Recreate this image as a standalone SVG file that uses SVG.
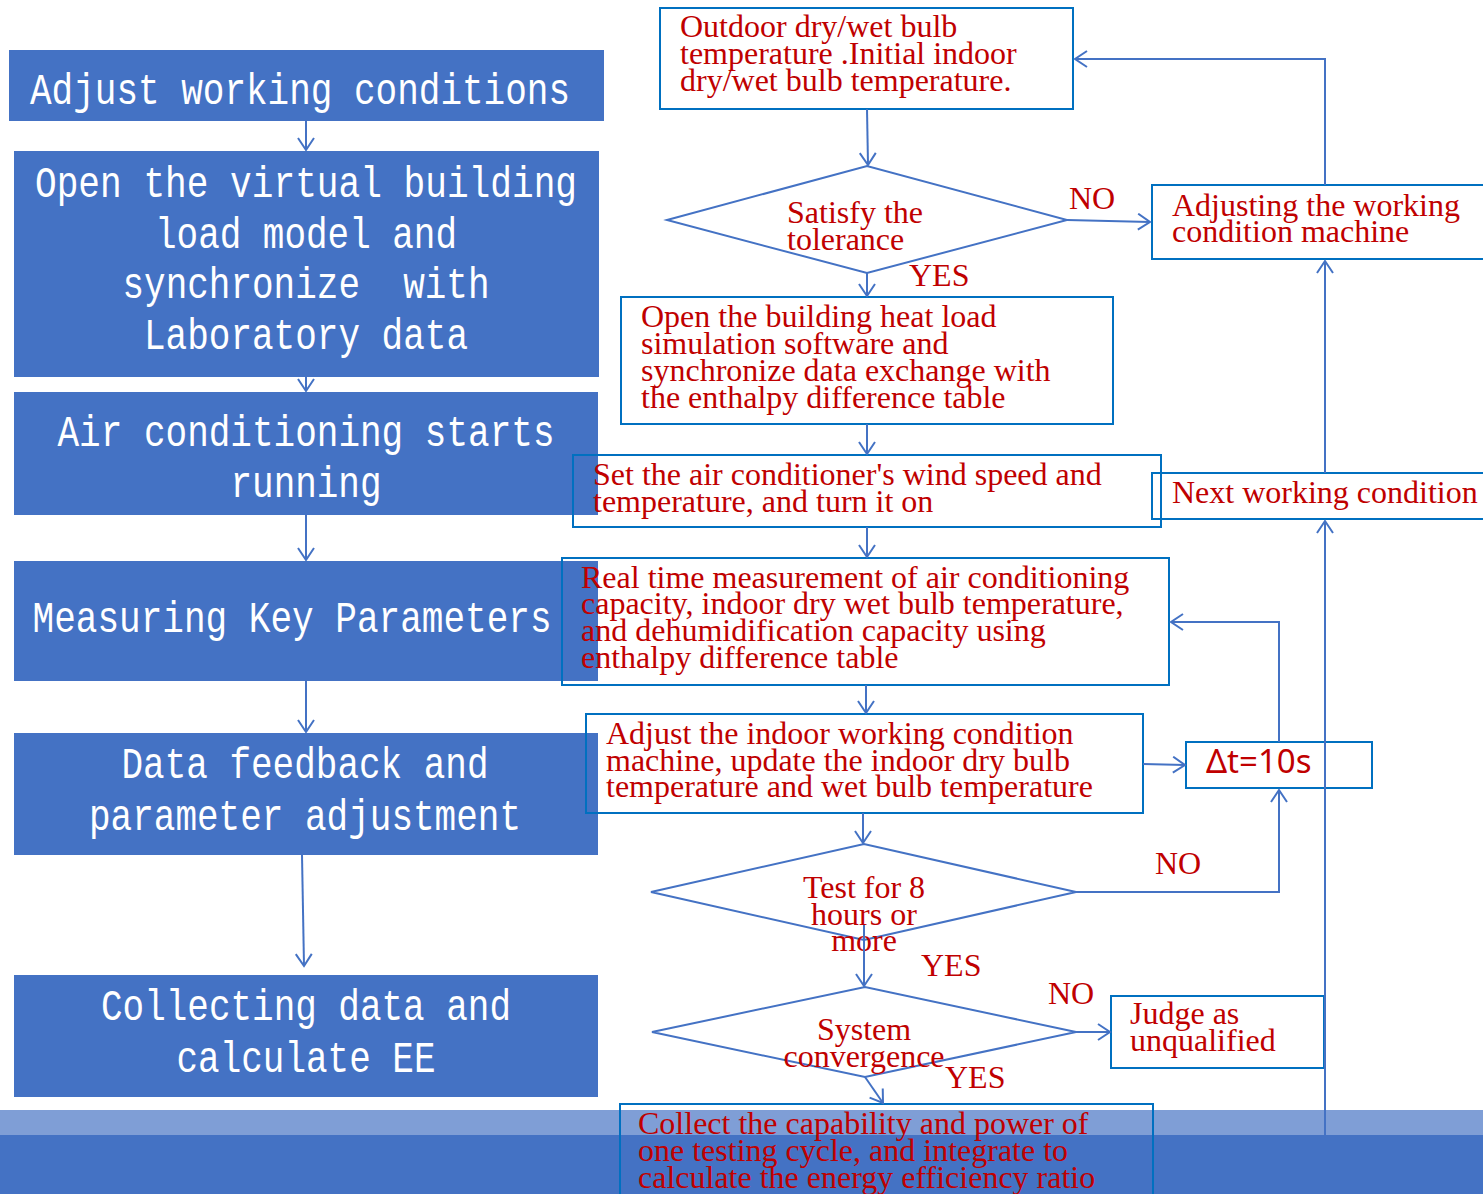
<svg xmlns="http://www.w3.org/2000/svg" width="1483" height="1194" viewBox="0 0 1483 1194">
<style>
.lb{fill:#4472C4}
.lt{font-family:"Liberation Mono",monospace;font-size:44px;fill:#fff;text-anchor:middle}
.rb{fill:none;stroke:#0070C0;stroke-width:2}
.rt{font-family:"Liberation Serif",serif;font-size:32px;fill:#C00000}
.rc{text-anchor:middle}
.dm{fill:none;stroke:#4472C4;stroke-width:2}
.cn{fill:none;stroke:#4472C4;stroke-width:2;marker-end:url(#ah)}
</style>
<defs>
<marker id="ah" markerUnits="userSpaceOnUse" markerWidth="20" markerHeight="20" refX="14" refY="9" orient="auto">
<path d="M2,1 L14,9 L2,17" fill="none" stroke="#4472C4" stroke-width="2"/>
</marker>
</defs>
<rect width="1483" height="1194" fill="#fff"/>
<g id="band">
<rect x="0" y="1110" width="1483" height="25" fill="#7F9ED6"/>
<rect x="0" y="1135" width="1483" height="59" fill="#4472C4"/>
</g>

<g id="n-adjust">
<rect class="lb" x="9" y="50" width="595" height="71"/>
<text class="lt" x="300" y="104" textLength="540" lengthAdjust="spacingAndGlyphs">Adjust working conditions</text>
</g>
<g id="n-open-virtual">
<rect class="lb" x="14" y="151" width="585" height="226"/>
<text class="lt" x="306" y="197" textLength="542" lengthAdjust="spacingAndGlyphs">Open the virtual building</text>
<text class="lt" x="306" y="248" textLength="302" lengthAdjust="spacingAndGlyphs">load model and</text>
<text class="lt" x="306" y="298" textLength="367" lengthAdjust="spacingAndGlyphs">synchronize&#160; with</text>
<text class="lt" x="306" y="349" textLength="324" lengthAdjust="spacingAndGlyphs">Laboratory data</text>
</g>
<g id="n-ac-start">
<rect class="lb" x="14" y="392" width="584" height="123"/>
<text class="lt" x="306" y="446" textLength="497" lengthAdjust="spacingAndGlyphs">Air conditioning starts</text>
<text class="lt" x="306" y="497" textLength="151" lengthAdjust="spacingAndGlyphs">running</text>
</g>
<g id="n-measure">
<rect class="lb" x="14" y="561" width="584" height="120"/>
<text class="lt" x="292" y="632" textLength="519" lengthAdjust="spacingAndGlyphs">Measuring Key Parameters</text>
</g>
<g id="n-feedback">
<rect class="lb" x="14" y="733" width="584" height="122"/>
<text class="lt" x="305" y="778" textLength="367" lengthAdjust="spacingAndGlyphs">Data feedback and</text>
<text class="lt" x="305" y="830" textLength="432" lengthAdjust="spacingAndGlyphs">parameter adjustment</text>
</g>
<g id="n-collecting">
<rect class="lb" x="14" y="975" width="584" height="122"/>
<text class="lt" x="306" y="1020" textLength="410" lengthAdjust="spacingAndGlyphs">Collecting data and</text>
<text class="lt" x="306" y="1072" textLength="259" lengthAdjust="spacingAndGlyphs">calculate EE</text>
</g>

<g id="n-outdoor">
<rect class="rb" x="660" y="8" width="413" height="101"/>
<text class="rt" x="680" y="37">Outdoor dry/wet bulb</text>
<text class="rt" x="680" y="64">temperature .Initial indoor</text>
<text class="rt" x="680" y="91">dry/wet bulb temperature.</text>
</g>
<g id="n-tolerance">
<polygon class="dm" points="667,220 867,166 1067,220 867,273"/>
<text class="rt" x="787" y="223">Satisfy the</text>
<text class="rt" x="787" y="250">tolerance</text>
</g>
<g id="n-adjusting-machine">
<rect class="rb" x="1152" y="185" width="335" height="74"/>
<text class="rt" x="1172" y="216">Adjusting the working</text>
<text class="rt" x="1172" y="242">condition machine</text>
</g>
<g id="n-open-building">
<rect class="rb" x="621" y="297" width="492" height="127"/>
<text class="rt" x="641" y="327">Open the building heat load</text>
<text class="rt" x="641" y="354">simulation software and</text>
<text class="rt" x="641" y="381">synchronize data exchange with</text>
<text class="rt" x="641" y="408">the enthalpy difference table</text>
</g>
<g id="n-set-ac">
<rect class="rb" x="573" y="455" width="588" height="72"/>
<text class="rt" x="593" y="485">Set the air conditioner's wind speed and</text>
<text class="rt" x="593" y="512">temperature, and turn it on</text>
</g>
<g id="n-next">
<rect class="rb" x="1152" y="473" width="335" height="46"/>
<text class="rt" x="1172" y="503">Next working condition</text>
</g>
<g id="n-realtime">
<rect class="rb" x="562" y="558" width="607" height="127"/>
<text class="rt" x="581" y="588">Real time measurement of air conditioning</text>
<text class="rt" x="581" y="614">capacity, indoor dry wet bulb temperature,</text>
<text class="rt" x="581" y="641">and dehumidification capacity using</text>
<text class="rt" x="581" y="668">enthalpy difference table</text>
</g>
<g id="n-adjust-indoor">
<rect class="rb" x="586" y="714" width="557" height="99"/>
<text class="rt" x="606" y="744">Adjust the indoor working condition</text>
<text class="rt" x="606" y="771">machine, update the indoor dry bulb</text>
<text class="rt" x="606" y="797">temperature and wet bulb temperature</text>
</g>
<g id="n-dt">
<rect class="rb" x="1186" y="742" width="186" height="46"/>
<text x="1206" y="773" style="font-family:'Noto Sans','Liberation Sans',sans-serif;font-size:33px;fill:#C00000">Δt=10s</text>
</g>
<g id="n-8hours">
<polygon class="dm" points="651,892 864,844 1076,892 864,940"/>
<text class="rt rc" x="864" y="898">Test for 8</text>
<text class="rt rc" x="864" y="925">hours or</text>
<text class="rt rc" x="864" y="951">more</text>
</g>
<g id="n-convergence">
<polygon class="dm" points="652,1032 865,987 1076,1032 865,1077"/>
<text class="rt rc" x="864" y="1040">System</text>
<text class="rt rc" x="864" y="1067">convergence</text>
</g>
<g id="n-judge">
<rect class="rb" x="1111" y="996" width="213" height="72"/>
<text class="rt" x="1130" y="1024">Judge as</text>
<text class="rt" x="1130" y="1051">unqualified</text>
</g>
<g id="n-collect">
<rect class="rb" x="620" y="1104" width="533" height="100"/>
<text class="rt" x="638" y="1134">Collect the capability and power of</text>
<text class="rt" x="638" y="1161">one testing cycle, and integrate to</text>
<text class="rt" x="638" y="1188">calculate the energy efficiency ratio</text>
</g>

<g id="connectors">
<path class="cn" d="M306,121 V150"/>
<path class="cn" d="M306,377 V391"/>
<path class="cn" d="M306,515 V560"/>
<path class="cn" d="M306,681 V732"/>
<path class="cn" d="M302,855 L304,966"/>
<path class="cn" d="M867,109 L868,165"/>
<path class="cn" d="M1067,220 L1150,222"/>
<path class="cn" d="M867,273 V296"/>
<path class="cn" d="M867,424 V454"/>
<path class="cn" d="M867,527 V557"/>
<path class="cn" d="M866,685 V713"/>
<path class="cn" d="M1143,764 L1185,765"/>
<path class="cn" d="M1279,742 V622 H1171"/>
<path class="cn" d="M863,813 V843"/>
<path class="cn" d="M1076,892 H1279 V790"/>
<path class="cn" d="M864,925 V986"/>
<path class="cn" d="M1076,1032 H1110"/>
<path class="cn" d="M865,1077 L883,1103"/>
<path class="cn" d="M1325,1135 V521"/>
<path class="cn" d="M1325,473 V261"/>
<path class="cn" d="M1325,185 V59 H1075"/>
<text class="rt" x="1069" y="209">NO</text>
<text class="rt" x="909" y="286">YES</text>
<text class="rt" x="1155" y="874">NO</text>
<text class="rt" x="921" y="976">YES</text>
<text class="rt" x="1048" y="1004">NO</text>
<text class="rt" x="945" y="1088">YES</text>
</g>
</svg>
